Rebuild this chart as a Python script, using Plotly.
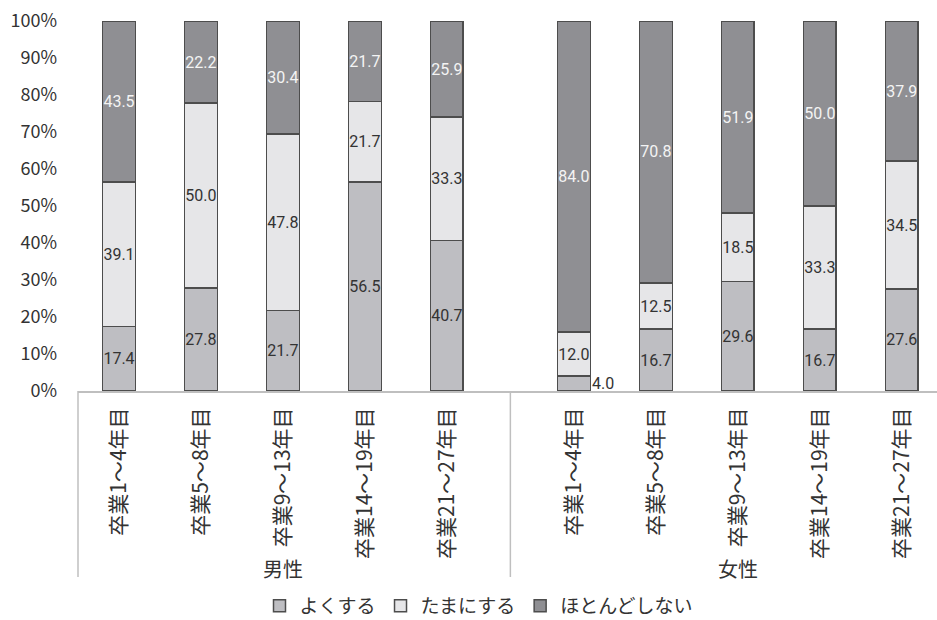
import plotly.graph_objects as go

# --- data -------------------------------------------------------------
groups = ["男性", "女性"]
periods = ["卒業1～4年目", "卒業5～8年目", "卒業9～13年目", "卒業14～19年目", "卒業21～27年目"]
series_names = ["よくする", "たまにする", "ほとんどしない"]

male_often = [17.4, 27.8, 21.7, 56.5, 40.7]
male_sometimes = [39.1, 50.0, 47.8, 21.7, 33.3]
male_rarely = [43.5, 22.2, 30.4, 21.7, 25.9]

female_often = [4.0, 16.7, 29.6, 16.7, 27.6]
female_sometimes = [12.0, 12.5, 18.5, 33.3, 34.5]
female_rarely = [84.0, 70.8, 51.9, 50.0, 37.9]

y_tick_values = [0, 10, 20, 30, 40, 50, 60, 70, 80, 90, 100]
y_tick_labels = [f"{v}%" for v in y_tick_values]

# --- layout constants -------------------------------------------------
W, H = 937, 620
M_L, M_R, M_T, M_B = 78, 0, 21, 229
GROUP_GAP = 0.55          # extra space between the 男性 and 女性 blocks
BAR_W = 0.40
X_RANGE = [-0.5, 9.98]
SMALL = 5.0               # segments thinner than this get their label outside

colors = ["#bebec2", "#e6e6e8", "#8f8f93"]
label_colors = ["#333333", "#333333", "#f4f4f4"]
JP_FONT = "Noto Sans CJK JP, Noto Sans, sans-serif"
NUM_FONT = "Roboto, Liberation Sans Narrow, sans-serif"
NUM_SIZE = 16

n = len(periods)
positions = [i for i in range(n)] + [n + GROUP_GAP + i for i in range(n)]
tick_text = periods + periods

series = [
    male_often + female_often,
    male_sometimes + female_sometimes,
    male_rarely + female_rarely,
]

fig = go.Figure()
for name, vals, col, lcol in zip(series_names, series, colors, label_colors):
    fig.add_trace(go.Bar(
        name=name,
        x=positions,
        y=vals,
        width=BAR_W,
        marker=dict(color=col, line=dict(color="#4d4d4d", width=1.5)),
        text=[f"{v:.1f}" if v >= SMALL else "" for v in vals],
        textposition="inside",
        insidetextanchor="middle",
        textangle=0,
        constraintext="none",
        textfont=dict(family=NUM_FONT, size=NUM_SIZE, color=lcol),
        hoverinfo="skip",
    ))

# labels for segments too thin to hold text: placed to the right of the bar
plot_w = W - M_L - M_R
px_per_unit = plot_w / (X_RANGE[1] - X_RANGE[0])
annotations = []
for k, vals in enumerate(series):
    for i, v in enumerate(vals):
        if v < SMALL:
            base = sum(series[j][i] for j in range(k))
            annotations.append(dict(
                x=positions[i], y=base + v / 2, xref="x", yref="y",
                text=f"{v:.1f}", showarrow=False,
                xanchor="left", yanchor="middle",
                xshift=BAR_W / 2 * px_per_unit,
                font=dict(family=NUM_FONT, size=NUM_SIZE, color="#333333"),
            ))

# group labels under the period labels
plot_h = H - M_T - M_B
group_label_y = -(568 - (H - M_B)) / plot_h
for gi, g in enumerate(groups):
    mid = positions[gi * n + n // 2]
    annotations.append(dict(
        x=mid, y=group_label_y, xref="x", yref="paper",
        text=g, showarrow=False, xanchor="center", yanchor="middle",
        font=dict(family=JP_FONT, size=20, color="#333333"),
    ))

# separators of the two-level category axis
def to_paper(xv):
    return (xv - X_RANGE[0]) / (X_RANGE[1] - X_RANGE[0])

sep_bottom = -(577 - (H - M_B)) / plot_h
divider = (positions[n - 1] + positions[n]) / 2
shapes = [
    dict(type="line", xref="paper", yref="paper", x0=to_paper(xv), x1=to_paper(xv),
         y0=0, y1=sep_bottom, line=dict(color="#bfbfbf", width=1.5))
    for xv in (X_RANGE[0], divider)
]

fig.update_layout(
    barmode="stack",
    width=W, height=H,
    margin=dict(l=M_L, r=M_R, t=M_T, b=M_B),
    paper_bgcolor="white",
    plot_bgcolor="white",
    uniformtext=dict(minsize=NUM_SIZE, mode="show"),
    font=dict(family=JP_FONT, color="#333333"),
    xaxis=dict(
        range=X_RANGE,
        tickmode="array", tickvals=positions, ticktext=tick_text,
        tickangle=-90,
        tickfont=dict(family=JP_FONT, size=21, color="#333333"),
        ticks="", ticklabelstandoff=6,
        showline=True, linecolor="#bfbfbf", linewidth=2,
        showgrid=False, zeroline=False, fixedrange=True,
    ),
    yaxis=dict(
        range=[0, 100],
        tickmode="array", tickvals=y_tick_values, ticktext=y_tick_labels,
        tickfont=dict(family=JP_FONT, size=18, color="#333333"),
        ticks="", ticklabelstandoff=20,
        showline=False, showgrid=False, zeroline=False, fixedrange=True,
    ),
    legend=dict(
        orientation="h",
        xref="container", yref="container",
        x=479 / W, y=1 - 606 / H,
        xanchor="center", yanchor="middle",
        font=dict(family=JP_FONT, size=19, color="#333333"),
        traceorder="normal",
        itemclick=False, itemdoubleclick=False,
    ),
    annotations=annotations,
    shapes=shapes,
    showlegend=True,
)

fig.write_html("out.html")
